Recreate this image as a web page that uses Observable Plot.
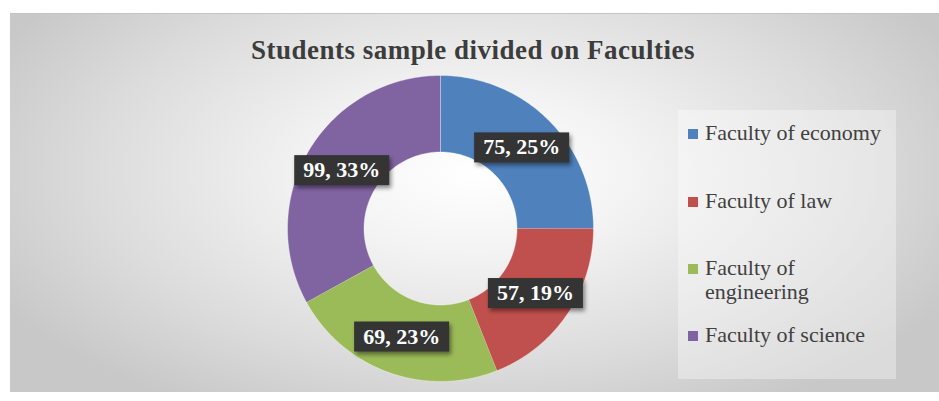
<!DOCTYPE html>
<html>
<head>
<meta charset="utf-8">
<script src="https://cdn.jsdelivr.net/npm/d3@7"></script>
<script src="https://cdn.jsdelivr.net/npm/@observablehq/plot@0.6"></script>
<style>
  html, body { margin: 0; padding: 0; background: #ffffff; }
  #wrap { position: relative; width: 939px; height: 401px; overflow: hidden; background: #fff; }
  #bg { position: absolute; left: 10px; top: 13px; width: 929px; height: 378px;
        background: radial-gradient(ellipse 58% 72% at 50% 42%, #ffffff 0%, #f3f3f3 30%, #dcdcdc 70%, #c8c8c8 100%);
        border-top: 1px solid #c4c4c4; }
  #title { position: absolute; left: 0; top: 35px; width: 946px; text-align: center;
           font-family: "Liberation Serif", "Times New Roman", serif; font-weight: bold;
           font-size: 27px; line-height: 30px; letter-spacing: 0.5px; color: #3c3c3c; }
  #chart { position: absolute; left: 0; top: 0; }
  #legend { position: absolute; left: 678px; top: 110px; width: 218px; height: 269px;
            background: rgba(255,255,255,0.35); }
  .item { position: absolute; left: 10px; width: 200px;
          font-family: "Liberation Serif", "Times New Roman", serif; font-size: 22px; line-height: 24px; color: #404040; }
  .sw { position: absolute; left: 0; top: 8px; width: 10px; height: 10px; }
  .lt { position: absolute; left: 17px; width: 185px; }
</style>
</head>
<body>
<div id="wrap">
  <div id="bg"></div>
  <div id="title">Students sample divided on Faculties</div>
  <div id="chart"></div>
  <div id="legend"></div>
</div>
<script>
// ---- data ----
const faculties = ["Faculty of economy", "Faculty of law", "Faculty of engineering", "Faculty of science"];
const students = [75, 57, 69, 99];
const colors = ["#4F81BD", "#C0504D", "#9BBB59", "#8064A2"];

// ---- geometry derived from data ----
const total = d3.sum(students);
const inner = 0.5, outer = 1;
const slices = [];
let cum = 0;
faculties.forEach((name, i) => {
  const a0 = cum / total * 2 * Math.PI;
  cum += students[i];
  const a1 = cum / total * 2 * Math.PI;
  slices.push({name, value: students[i], a0, a1, color: colors[i], pct: Math.round(students[i] / total * 100)});
});

const ringPts = [];
for (const s of slices) {
  const n = 120;
  for (let k = 0; k <= n; k++) {
    const a = s.a0 + (s.a1 - s.a0) * k / n;
    ringPts.push({name: s.name, x: Math.sin(a) * outer, y: Math.cos(a) * outer});
  }
  for (let k = n; k >= 0; k--) {
    const a = s.a0 + (s.a1 - s.a0) * k / n;
    ringPts.push({name: s.name, x: Math.sin(a) * inner, y: Math.cos(a) * inner});
  }
}
const labelPts = slices.map(s => {
  const m = (s.a0 + s.a1) / 2, r = (inner + outer) / 2;
  return {x: Math.sin(m) * r, y: Math.cos(m) * r, text: `${s.value}, ${s.pct}%`};
});

const plot = Plot.plot({
  width: 939,
  height: 401,
  marginLeft: 287,
  marginRight: 346,
  marginTop: 75,
  marginBottom: 20,
  style: {background: "transparent", overflow: "visible"},
  x: {domain: [-1, 1], axis: null},
  y: {domain: [-1, 1], axis: null},
  color: {domain: faculties, range: colors},
  marks: [
    Plot.line(ringPts, {x: "x", y: "y", z: "name", fill: "name", stroke: "#ffffff", strokeWidth: 0.6, strokeOpacity: 0.6, curve: "linear"}),
    Plot.text(labelPts, {x: "x", y: "y", text: "text", fill: "#ffffff", fontSize: 22, fontWeight: "bold",
      fontFamily: "'Liberation Serif', 'Times New Roman', serif"})
  ]
});
document.getElementById("chart").appendChild(plot);

// dark label boxes behind the texts
const tg = plot.querySelector('g[aria-label="text"]');
if (tg) {
  tg.querySelectorAll("text").forEach(t => {
    const b = t.getBBox();
    const r = document.createElementNS("http://www.w3.org/2000/svg", "rect");
    r.setAttribute("x", b.x - 9);
    r.setAttribute("y", b.y - 2);
    r.setAttribute("width", b.width + 18);
    r.setAttribute("height", b.height + 5);
    r.setAttribute("fill", "#343434");
    r.setAttribute("style", "filter: drop-shadow(2px 3px 2px rgba(0,0,0,0.45))");
    const tr = t.getAttribute("transform");
    if (tr) r.setAttribute("transform", tr);
    t.parentNode.insertBefore(r, t);
  });
}

// legend
const legendTops = [10.6, 78.6, 145.6, 212.6];
const lg = document.getElementById("legend");
faculties.forEach((name, i) => {
  const it = document.createElement("div");
  it.className = "item";
  it.style.top = legendTops[i] + "px";
  it.innerHTML = `<div class="sw" style="background:${colors[i]}"></div><div class="lt">${name}</div>`;
  lg.appendChild(it);
});
</script>
</body>
</html>
